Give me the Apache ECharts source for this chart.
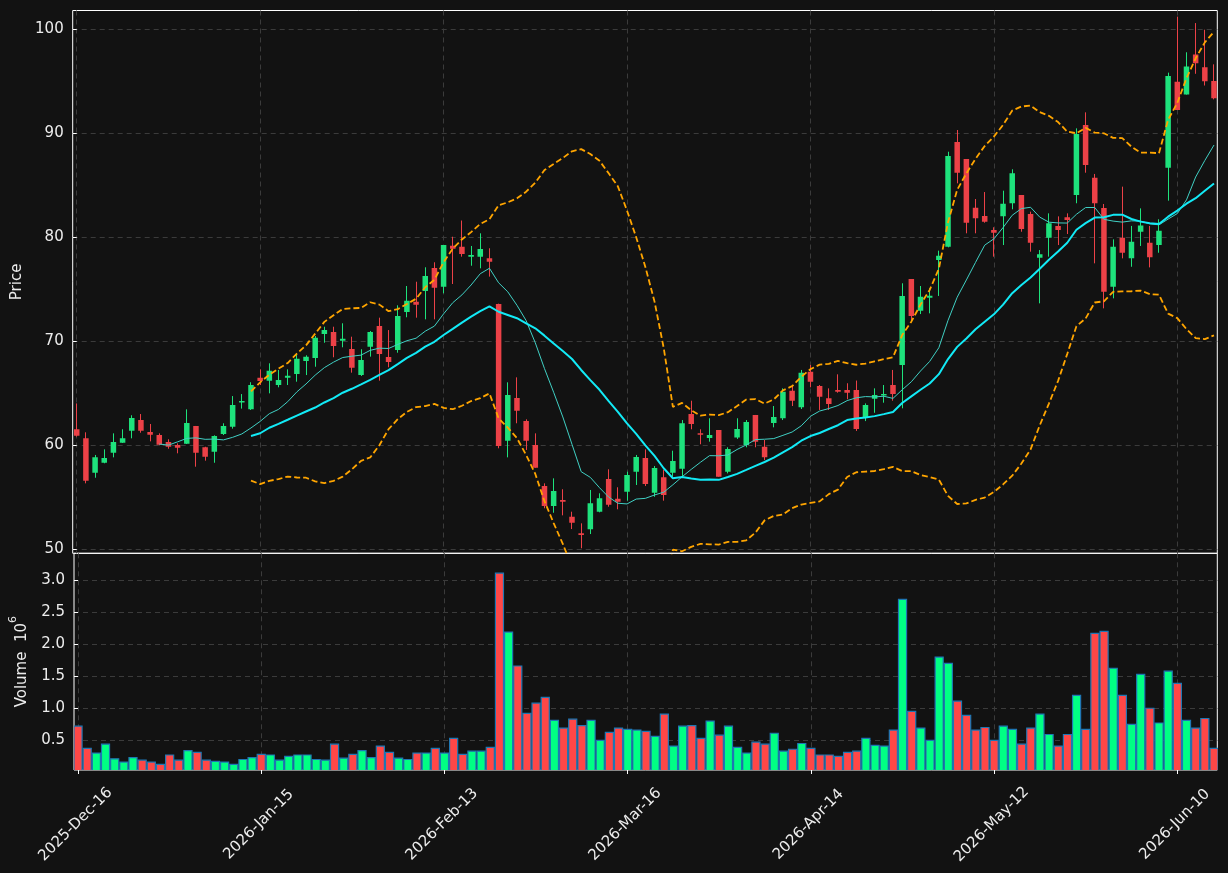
<!DOCTYPE html>
<html><head><meta charset="utf-8">
<script src="https://cdn.jsdelivr.net/npm/echarts@6/dist/echarts.min.js"></script>
<style>html,body{margin:0;padding:0;background:#121212;}#c{width:1228px;height:873px;}</style>
</head><body><div id="c"></div>
<script>
// ---- data ----
const opens = [61.51,60.64,57.33,58.29,59.26,60.22,61.37,62.41,61.25,60.96,60.29,60.0,60.12,61.83,59.78,59.36,61.06,61.76,64.17,63.44,
66.47,66.19,65.77,66.47,66.83,68.08,68.37,70.68,70.87,70.03,69.24,66.73,69.46,71.45,68.47,69.14,72.8,73.79,74.82,77.03,
75.23,79.18,79.08,78.12,78.12,77.96,73.57,60.41,64.52,62.31,60.0,56.05,54.13,54.7,53.1,51.5,51.89,53.58,56.73,54.83,
55.5,57.43,58.75,55.41,56.89,57.33,57.72,62.98,61.12,60.67,61.44,57.43,60.71,60.0,62.89,59.84,62.12,62.57,65.22,63.63,
67.05,65.68,64.49,65.29,65.29,65.29,62.6,64.45,64.78,65.77,67.7,75.97,72.92,74.17,77.8,79.08,89.15,87.52,82.84,82.03,
80.69,82.0,83.26,84.05,82.23,78.02,79.95,81.08,81.91,84.05,90.79,85.72,82.8,75.23,79.95,77.96,80.52,79.47,79.24,86.69,
94.96,93.72,97.57,96.35,95.03];
const highs = [64.0,61.22,59.04,59.58,61.12,61.51,62.86,62.98,62.02,61.12,60.55,60.16,63.43,61.83,59.83,60.93,62.09,64.71,64.9,66.04,
67.28,67.86,67.22,67.28,68.82,68.63,70.49,71.38,71.38,71.71,70.42,69.21,70.97,72.25,71.06,73.44,75.3,75.71,77.1,77.58,
79.24,80.04,81.6,79.15,80.37,78.93,73.6,66.03,66.51,62.47,61.12,56.31,56.79,55.74,53.58,52.46,55.67,55.35,57.66,55.93,
57.43,59.04,59.58,57.98,57.59,59.45,62.4,64.26,61.51,62.57,61.44,59.78,62.57,62.4,62.89,60.48,63.75,65.45,65.68,67.22,
67.7,65.77,65.45,66.8,65.94,66.2,64.0,65.45,65.77,67.22,75.56,75.97,75.3,75.08,78.7,88.22,90.31,87.52,83.67,84.34,
80.95,84.47,86.53,84.05,82.45,78.76,82.29,82.0,82.29,90.47,92.01,86.08,83.19,79.79,84.86,81.08,82.77,81.08,81.72,95.83,
101.22,97.79,100.6,99.96,96.63];
const lows = [60.8,56.31,56.85,58.24,58.81,60.2,60.64,61.18,60.35,59.97,59.64,59.2,60.1,57.91,58.49,58.29,60.96,61.57,63.5,63.37,
65.77,64.97,65.55,65.77,66.09,66.73,67.53,69.84,68.44,69.4,66.96,66.64,68.5,66.19,67.48,68.88,72.29,72.25,72.09,72.09,
74.6,75.49,78.12,77.25,77.0,76.2,59.68,58.81,62.09,59.52,57.81,53.91,53.48,53.23,51.91,50.06,51.43,53.52,54.06,53.81,
54.64,56.15,56.05,55.02,54.64,56.95,56.95,61.51,60.07,60.32,56.95,57.27,60.58,59.78,59.78,58.55,61.7,62.4,63.75,63.46,
65.55,63.37,63.37,65.03,64.4,61.35,62.3,63.1,64.07,64.26,63.53,71.86,72.6,72.67,74.34,79.02,85.18,80.37,80.37,81.39,
78.12,79.24,82.68,80.52,78.6,73.63,78.12,79.24,80.3,83.26,86.2,77.48,73.15,74.11,77.96,77.15,79.15,77.09,78.5,83.51,
92.24,93.72,95.72,94.59,93.26];
const closes = [60.9,56.56,58.81,58.75,60.29,60.64,62.6,61.37,60.99,60.02,59.84,59.74,62.12,59.26,58.87,60.86,61.83,63.85,64.24,65.78,
66.16,67.15,66.25,66.67,68.3,68.5,70.32,71.06,69.52,70.23,67.44,68.18,70.87,68.75,67.99,72.41,73.88,73.5,76.26,75.13,
79.24,78.89,78.38,78.28,78.86,77.64,59.9,64.81,63.3,60.41,57.81,54.13,55.57,54.54,52.52,51.34,54.39,54.87,54.25,54.54,
57.11,58.84,56.25,57.79,55.19,58.46,62.08,62.02,61.06,60.96,56.95,59.61,61.54,62.21,60.32,58.81,62.69,65.13,64.26,66.96,
66.09,64.65,63.94,65.13,65.03,61.54,63.85,64.81,64.9,64.9,74.34,72.41,74.27,74.37,78.21,87.81,86.2,81.39,81.81,81.49,
80.43,83.22,86.14,80.78,79.47,78.35,81.33,80.69,81.65,89.92,86.94,83.26,74.75,79.08,78.5,79.56,81.13,78.06,80.62,95.51,
92.24,96.41,96.74,95.0,93.36];
// volume in millions
const volumes = [0.72,0.375,0.30,0.44,0.21,0.16,0.23,0.19,0.16,0.125,0.27,0.19,0.34,0.31,0.19,0.17,0.16,0.125,0.20,0.23,
0.28,0.27,0.19,0.25,0.27,0.27,0.20,0.19,0.44,0.22,0.28,0.34,0.23,0.41,0.31,0.22,0.20,0.30,0.30,0.375,
0.30,0.53,0.28,0.33,0.33,0.39,3.11,2.19,1.66,0.92,1.08,1.17,0.81,0.69,0.83,0.73,0.81,0.50,0.625,0.69,
0.67,0.66,0.64,0.56,0.91,0.41,0.72,0.73,0.53,0.80,0.58,0.72,0.39,0.30,0.47,0.44,0.61,0.33,0.36,0.45,
0.375,0.27,0.27,0.25,0.31,0.33,0.53,0.42,0.41,0.66,2.70,0.95,0.69,0.50,1.80,1.70,1.11,0.89,0.66,0.70,
0.50,0.72,0.67,0.44,0.69,0.91,0.59,0.41,0.59,1.20,0.67,2.17,2.20,1.625,1.20,0.75,1.53,1.00,0.77,1.58,
1.39,0.81,0.69,0.84,0.375];
const tickIndex = [0,20,40,60,80,100,120];
const tickLabels = ['2025-Dec-16','2026-Jan-15','2026-Feb-13','2026-Mar-16','2026-Apr-14','2026-May-12','2026-Jun-10'];
const priceTicks = [50,60,70,80,90,100];
const volumeTicks = [0.5,1.0,1.5,2.0,2.5,3.0];

// ---- indicators derived from the close series (as the original chart does) ----
function sma(arr, n){ const out=[]; for(let i=n-1;i<arr.length;i++){ let s=0; for(let j=i-n+1;j<=i;j++) s+=arr[j]; out.push([i, s/n]); } return out; }
function boll(arr, n, k, sign){ const out=[]; for(let i=n-1;i<arr.length;i++){ let s=0; for(let j=i-n+1;j<=i;j++) s+=arr[j]; const m=s/n; let v=0; for(let j=i-n+1;j<=i;j++) v+=(arr[j]-m)*(arr[j]-m); const sd=Math.sqrt(v/(n-1)); out.push([i, m+sign*k*sd]); } return out; }

const UP='#1ee27c', DOWN='#ec4147', VUP='#00ff84', VDOWN='#ff4747';
const candleData = opens.map((o,i)=>[i,o,closes[i],lows[i],highs[i]]);
const volData = volumes.map((v,i)=>[i,v,closes[i]>=opens[i]?1:0]);

const FONT='DejaVu Sans', TXT='#ececec', GRIDC='#3b3b3b', FS=15;
const chart = echarts.init(document.getElementById('c'), null, {renderer:'canvas'});
const xCommon = {type:'value', min:-0.44, max:124.36, axisLine:{show:false},
  splitLine:{show:true, lineStyle:{color:GRIDC, type:[5,4], width:1}}};
chart.setOption({
  backgroundColor:'#121212', animation:false,
  grid:[
    {left:72.7, right:10.7, top:10.5, height:542.8, show:true, borderColor:'#ffffff', borderWidth:1, backgroundColor:'transparent'},
    {left:72.7, right:10.7, top:553.3, height:216.7, show:true, borderColor:'#ffffff', borderWidth:1, backgroundColor:'transparent'}
  ],
  xAxis:[
    Object.assign({gridIndex:0, axisTick:{show:false, customValues:tickIndex}, axisLabel:{show:false, customValues:tickIndex}}, xCommon),
    Object.assign({gridIndex:1, axisTick:{show:true, customValues:tickIndex, length:4, lineStyle:{color:'#fff'}},
      axisLabel:{show:true, customValues:tickIndex, rotate:45, align:'center', verticalAlign:'middle', margin:52, padding:[0,7,0,0],
        color:TXT, fontSize:FS, fontFamily:FONT, formatter:v=>tickLabels[tickIndex.indexOf(Math.round(v))]||''}}, xCommon)
  ],
  yAxis:[
    {type:'value', gridIndex:0, min:49.577, max:101.81, axisLine:{show:false},
     axisTick:{show:true, customValues:priceTicks, length:4, lineStyle:{color:'#fff'}},
     axisLabel:{customValues:priceTicks, color:TXT, fontSize:FS, fontFamily:FONT, margin:9},
     splitLine:{show:true, lineStyle:{color:GRIDC, type:[5,4], width:1}},
     name:'Price', nameLocation:'middle', nameRotate:90, nameGap:43,
     nameTextStyle:{color:TXT, fontSize:FS, fontFamily:FONT}},
    {type:'value', gridIndex:1, min:0.036, max:3.42, axisLine:{show:false},
     axisTick:{show:true, customValues:volumeTicks, length:4, lineStyle:{color:'#fff'}},
     axisLabel:{customValues:volumeTicks, color:TXT, fontSize:FS, fontFamily:FONT, margin:9, formatter:v=>v.toFixed(1)},
     splitLine:{show:true, lineStyle:{color:GRIDC, type:[5,4], width:1}},
     name:'{a|Volume  10}{s|6}', nameLocation:'middle', nameRotate:90, nameGap:44,
     nameTextStyle:{color:TXT, fontFamily:FONT, rich:{a:{fontSize:FS, color:TXT, fontFamily:FONT, lineHeight:22, verticalAlign:'bottom'}, s:{fontSize:11, color:TXT, fontFamily:FONT, lineHeight:22, verticalAlign:'top'}}}}
  ],
  series:[
    {type:'custom', xAxisIndex:0, yAxisIndex:0, clip:true, z:2,
     dimensions:['i','open','close','low','high'], encode:{x:0, y:[1,2,3,4]},
     data:candleData,
     renderItem:(params, api)=>{
       const x=api.value(0), o=api.value(1), c=api.value(2), l=api.value(3), h=api.value(4);
       const pO=api.coord([x,o]), pC=api.coord([x,c]), pL=api.coord([x,l]), pH=api.coord([x,h]);
       const w=api.size([1,0])[0]*0.6;
       const col = c>=o?UP:DOWN;
       const top=Math.min(pO[1],pC[1]); let hh=Math.abs(pO[1]-pC[1]); if(hh<1.5) hh=1.5;
       const cx=Math.round(pO[0]-0.5)+0.5;
       return {type:'group', children:[
         {type:'line', shape:{x1:cx,y1:pH[1],x2:cx,y2:pL[1]}, style:{stroke:col, lineWidth:1}},
         {type:'rect', shape:{x:pO[0]-w/2, y:top, width:w, height:hh}, style:{fill:col}}
       ]};
     }},
    {type:'custom', xAxisIndex:1, yAxisIndex:1, clip:true, z:2,
     dimensions:['i','vol','dir'], encode:{x:0, y:1},
     data:volData,
     renderItem:(params, api)=>{
       const x=api.value(0), v=api.value(1), d=api.value(2);
       const pT=api.coord([x,v]), pB=api.coord([x,0]);
       const w=api.size([1,0])[0]*0.88;
       return {type:'rect', shape:{x:pT[0]-w/2, y:pT[1], width:w, height:pB[1]-pT[1]},
         style:{fill:d?VUP:VDOWN, stroke:'#1f77b4', lineWidth:1.2}};
     }},
    {type:'line', xAxisIndex:0, yAxisIndex:0, data:sma(closes,10), showSymbol:false, clip:true, z:3,
     lineStyle:{color:'#40d0c4', width:1}},
    {type:'line', xAxisIndex:0, yAxisIndex:0, data:sma(closes,20), showSymbol:false, clip:true, z:3,
     lineStyle:{color:'#12eaf6', width:2}},
    {type:'line', xAxisIndex:0, yAxisIndex:0, data:boll(closes,20,2,1), showSymbol:false, clip:true, z:3,
     lineStyle:{color:'#ffa500', width:1.8, type:[6,3]}},
    {type:'line', xAxisIndex:0, yAxisIndex:0, data:boll(closes,20,2,-1), showSymbol:false, clip:true, z:3,
     lineStyle:{color:'#ffa500', width:1.8, type:[6,3]}}
  ]
});
</script></body></html>
